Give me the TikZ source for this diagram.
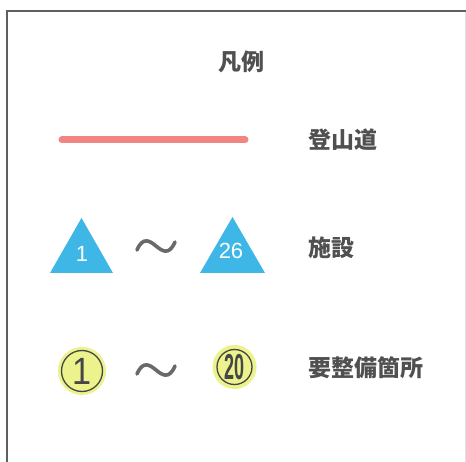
\documentclass[tikz,border=0pt]{standalone}
\usepackage{fontspec}
\setmainfont{Liberation Sans}
\newfontfamily\cjk{Noto Sans CJK JP}
\begin{document}
\begin{tikzpicture}[x=1pt,y=-1pt,
  lbl/.style={anchor=west,inner sep=0pt,font=\cjk\bfseries\fontsize{23}{23}\selectfont,text=txtgray},
  tri/.style={fill=tricyan,draw=none},
  trinum/.style={text=white,inner sep=0pt,font=\fontsize{22}{22}\selectfont},
  tildestyle/.style={draw=tildegray,line width=3.6pt,line cap=round},
  glow/.style={fill=glowyellow,draw=none},
  ring/.style={draw=ringgray,line width=1.3pt},
  cnum/.style={text=ringgray,inner sep=0pt}]
\definecolor{txtgray}{RGB}{80,80,80}
\definecolor{tricyan}{RGB}{62,182,230}
\definecolor{tildegray}{RGB}{105,105,105}
\definecolor{glowyellow}{RGB}{236,242,140}
\definecolor{ringgray}{RGB}{70,70,70}
\definecolor{trailpink}{RGB}{242,132,130}
\definecolor{framegray}{RGB}{95,95,95}
\useasboundingbox[fill=white] (0,0) rectangle (466,462);
% frame
\draw[framegray,line width=2pt] (7,462) -- (7,11) -- (466,11);
\draw[gray!25,line width=0.8pt] (465,12) -- (465,462);
% title
\node[inner sep=0pt,font=\cjk\bfseries\fontsize{23}{23}\selectfont,text=txtgray] (title) at (241,62) {凡例};
% trail
\coordinate (ta) at (62,140);
\coordinate (tb) at (245,140);
\draw[trailpink,line width=7pt,line cap=round] (ta) -- (tb);
\node[lbl] (l1) at (308,140) {登山道};
% triangles
\fill[tri] (50,273) -- (81.5,218) -- (113,273) -- cycle;
\node[trinum] (t1) at (82,254) {1};
\fill[tri] (200,273) -- (232.5,217) -- (265,273) -- cycle;
\node[trinum] (t26) at (231,251) {26};
\draw[tildestyle] (137,250) .. controls (143,236) and (150,241) .. (156,246) .. controls (162,251) and (169,256) .. (175,242);
\node[lbl] (l2) at (308,248) {施設};
% circles
\fill[glow] (82,371) circle (24);
\draw[ring] (82,371) circle (20.5);
\node[cnum,font=\fontsize{38}{38}\selectfont,xscale=0.9] (c1) at (82,371) {1};
\fill[glow] (234.5,367) circle (22);
\draw[ring] (234.5,367) circle (17.5);
\node[cnum,font=\bfseries\fontsize{36}{36}\selectfont,xscale=0.5] (c20) at (234.5,367) {20};
\draw[tildestyle] (137,374) .. controls (143,360) and (150,365) .. (156,370) .. controls (162,375) and (169,380) .. (175,366);
\node[lbl] (l3) at (308,368) {要整備箇所};
\end{tikzpicture}
\end{document}
